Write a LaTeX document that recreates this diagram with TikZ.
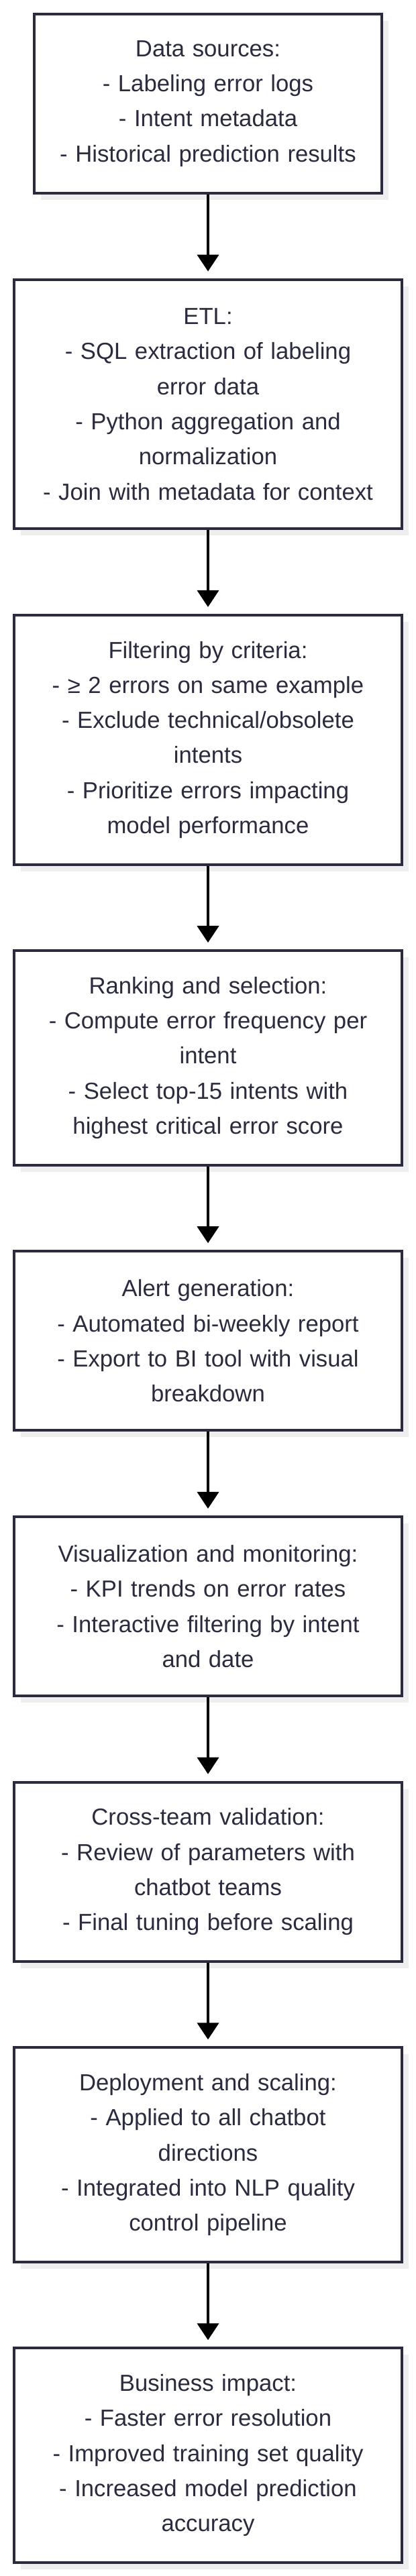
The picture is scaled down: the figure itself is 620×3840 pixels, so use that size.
\documentclass[tikz,border=0pt]{standalone}
\usepackage{fontspec}
\setmainfont{Liberation Sans}
\usetikzlibrary{positioning}
\usetikzlibrary{arrows.meta}
\usetikzlibrary{shadows}
\definecolor{ink}{RGB}{43,43,64}
\definecolor{shade}{RGB}{238,238,238}

\begin{document}
\begin{tikzpicture}[x=1pt, y=1pt,
    stage/.style={draw=ink, line width=4pt, fill=white, text=ink, align=center,
      text width=578pt, inner xsep=0pt, inner ysep=0pt,
      minimum height={58pt+#1*52.3pt},
      font=\fontsize{34.7}{52.3}\selectfont,
      drop shadow={fill=shade, opacity=1, shadow xshift=10pt, shadow yshift=-10pt}},
    flow/.style={line width=4pt, -{Triangle[width=32pt,length=25pt]}, shorten >=10pt},
    node distance=124.5pt]
  \useasboundingbox (0, 0) rectangle (620, -3840);

  \node[stage=4, text width=518pt] (sources) at (310, -154.5)
    {Data sources:\\ - Labeling error logs\\ - Intent metadata\\ - Historical prediction results};
  \node[stage=6, below=of sources] (etl)
    {ETL:\\ - SQL extraction of labeling\\ error data\\ - Python aggregation and\\ normalization\\ - Join with metadata for context};
  \node[stage=6, below=of etl] (filter)
    {Filtering by criteria:\\ - ≥ 2 errors on same example\\ - Exclude technical/obsolete\\ intents\\ - Prioritize errors impacting\\ model performance};
  \node[stage=5, below=of filter] (ranking)
    {Ranking and selection:\\ - Compute error frequency per\\ intent\\ - Select top-15 intents with\\ highest critical error score};
  \node[stage=4, below=of ranking] (alert)
    {Alert generation:\\ - Automated bi-weekly report\\ - Export to BI tool with visual\\ breakdown};
  \node[stage=4, below=of alert] (monitor)
    {Visualization and monitoring:\\ - KPI trends on error rates\\ - Interactive filtering by intent\\ and date};
  \node[stage=4, below=of monitor] (validate)
    {Cross-team validation:\\ - Review of parameters with\\ chatbot teams\\ - Final tuning before scaling};
  \node[stage=5, below=of validate] (deploy)
    {Deployment and scaling:\\ - Applied to all chatbot\\ directions\\ - Integrated into NLP quality\\ control pipeline};
  \node[stage=5, below=of deploy] (impact)
    {Business impact:\\ - Faster error resolution\\ - Improved training set quality\\ - Increased model prediction\\ accuracy};

  % arrows between the stages
  \draw[flow] (sources) -- (etl);
  \draw[flow] (etl) -- (filter);
  \draw[flow] (filter) -- (ranking);
  \draw[flow] (ranking) -- (alert);
  \draw[flow] (alert) -- (monitor);
  \draw[flow] (monitor) -- (validate);
  \draw[flow] (validate) -- (deploy);
  \draw[flow] (deploy) -- (impact);

\end{tikzpicture}
\end{document}
